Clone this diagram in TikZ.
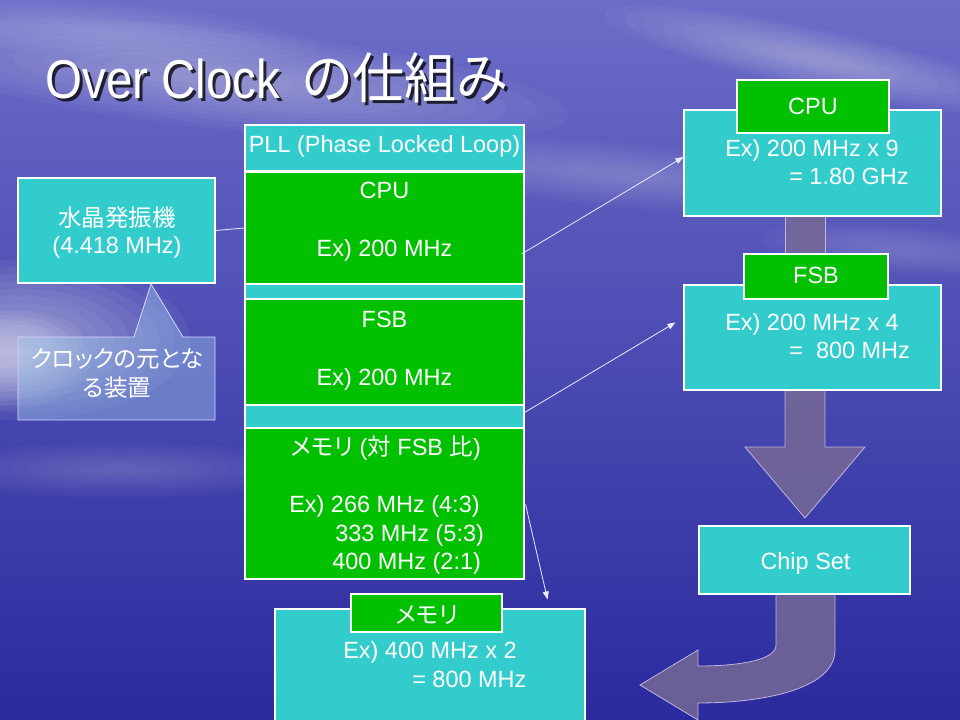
\documentclass[tikz,border=0pt]{standalone}
\usepackage{fontspec}
\setmainfont{Liberation Sans}
\newfontfamily\jp[RawFeature=+palt]{Noto Sans CJK JP}
\usetikzlibrary{arrows.meta,fit,calc}
\definecolor{cy}{HTML}{33CCCC}
\definecolor{gr}{HTML}{00C000}
\definecolor{skyA}{HTML}{6C6CC8}
\definecolor{skyB}{HTML}{4848B4}
\definecolor{skyC}{HTML}{2A2A9E}
\definecolor{grayarrow}{RGB}{118,104,150}
\definecolor{grayedge}{RGB}{190,182,222}
\newcommand\softblob[6]{%
  \foreach \k in {0,...,9}{%
    \fill[white,opacity=#6,rotate around={#5:(#1,#2)}] (#1,#2) ellipse [x radius={#3*(1-0.09*\k)}, y radius={#4*(1-0.09*\k)}];
  }%
}
\newcommand\titletext{\scalebox{0.87}[1]{Over Clock}\hspace{0.4em}\scalebox{0.95}[1]{\jp の仕組み}}
\begin{document}
\begin{tikzpicture}[x=0.75pt,y=-0.75pt,
  box/.style={draw=white,line width=0.8pt,inner sep=0pt},
  cybox/.style={box,fill=cy},
  grbox/.style={box,fill=gr},
  txt/.style={text=white,font=\fontsize{17.6}{21}\selectfont,inner sep=0pt},
  titlefont/.style={anchor=base west,inner sep=0pt,font=\fontsize{41}{46}\selectfont},
  link/.style={draw=white!92!blue,line width=0.6pt},
  arr/.style={link,-{Triangle[length=6pt,width=4.5pt]}},
  bigarrow/.style={fill=grayarrow,fill opacity=0.85,draw=grayedge,line width=0.6pt}
]
\clip (0,0) rectangle (960,720);
% ---------- background ----------
\shade[top color=skyA, middle color=skyB, bottom color=skyC] (0,0) rectangle (960,720);
\softblob{230}{80}{340}{50}{-6}{0.035}
\softblob{100}{30}{220}{28}{-4}{0.025}
\softblob{820}{60}{220}{30}{-12}{0.035}
\softblob{620}{175}{260}{32}{-5}{0.025}
\softblob{900}{250}{140}{25}{-5}{0.02}
\softblob{20}{340}{170}{80}{0}{0.05}
\softblob{0}{360}{90}{50}{0}{0.05}
\softblob{120}{470}{200}{28}{0}{0.02}
% ---------- title ----------
\node[titlefont,text=black,opacity=0.75] (titleshadow) at (48,102) {\titletext};
\node[titlefont,text=white] (title) at (45,99) {\titletext};
% ---------- gray big arrows ----------
\draw[bigarrow] (785,216) rectangle (825,256);
\draw[bigarrow] (785,390) -- (785,447) -- (745,447) -- (805,518) -- (865,447) -- (825,447) -- (825,390);
\draw[bigarrow] (776,594) -- (776,645) .. controls (776,660) and (740,666) .. (698,666)
  -- (698,650) -- (640,685) -- (698,720) -- (698,703)
  .. controls (760,703) and (835,690) .. (835,650) -- (835,594);
% ---------- PLL stack ----------
\node[cybox,fit={(245,125) (524,171)}] (pll) {};
\node[grbox,fit={(245,172) (524,284)}] (pcpu) {};
\node[cybox,fit={(245,284) (524,299)}] (strip1) {};
\node[grbox,fit={(245,299) (524,405)}] (pfsb) {};
\node[cybox,fit={(245,405) (524,428)}] (strip2) {};
\node[grbox,fit={(245,428) (524,579)}] (pmem) {};
\node[txt,anchor=base] (tpll) at (384.5,153) {PLL (Phase Locked Loop)};
\node[txt,anchor=base] (tpcpu1) at (384.5,199) {CPU};
\node[txt,anchor=base] (tpcpu2) at (384.5,257) {Ex) 200 MHz};
\node[txt,anchor=base] (tpfsb1) at (384.5,327) {FSB};
\node[txt,anchor=base] (tpfsb2) at (384.5,385) {Ex) 200 MHz};
\node[txt,anchor=base] (tpmem1) at (386,455) {{\jp メモリ} ({\jp 対} FSB {\jp 比})};
\node[txt,anchor=base west] (tpmem2) at (289,512) {Ex) 266 MHz (4:3)};
\node[txt,anchor=base west] (tpmem3) at (335,541) {333 MHz (5:3)};
\node[txt,anchor=base west] (tpmem4) at (332,569) {400 MHz (2:1)};
% ---------- crystal + callout ----------
\node[cybox,fit={(18,178) (215,283)}] (crystal) {};
\node[txt,anchor=base] (tcr1) at (117,227) {{\jp 水晶発振機}};
\node[txt,anchor=base] (tcr2) at (117,254) {(4.418 MHz)};
\draw[fill={rgb,255:red,160;green,205;blue,235},fill opacity=0.4,draw=white!85!blue,line width=0.6pt]
  (18,337) -- (134,337) -- (151,284) -- (183,337) -- (215,337) -- (215,420) -- (18,420) -- cycle;
\node[txt,anchor=base] (tco1) at (117,367) {{\jp クロックの元とな}};
\node[txt,anchor=base] (tco2) at (117,396) {{\jp る装置}};
% ---------- right boxes ----------
\node[cybox,fit={(684,110) (941,216)}] (rcpu) {};
\node[grbox,fit={(737,80) (889,133)}] (rcpul) {};
\node[txt,anchor=base] (trcpu0) at (813,115) {CPU};
\node[txt,anchor=base west] (trcpu1) at (725,157) {Ex) 200 MHz x 9};
\node[txt,anchor=base west] (trcpu2) at (789,185) {= 1.80 GHz};
\node[cybox,fit={(684,285) (941,390)}] (rfsb) {};
\node[grbox,fit={(744,254) (888,299)}] (rfsbl) {};
\node[txt,anchor=base] (trfsb0) at (816,284) {FSB};
\node[txt,anchor=base west] (trfsb1) at (725,330) {Ex) 200 MHz x 4};
\node[txt,anchor=base west] (trfsb2) at (789,358) {= \ 800 MHz};
\node[cybox,fit={(699,526) (910,594)}] (chip) {};
\node[txt,anchor=base] (tchip) at (805.5,569) {Chip Set};
% ---------- bottom memory ----------
\node[cybox,fit={(275,609) (585,730)}] (bmem) {};
\node[grbox,fit={(351,594) (502,632)}] (bmeml) {};
\node[txt,anchor=base] (tbm0) at (427,623) {{\jp メモリ}};
\node[txt,anchor=base west] (tbm1) at (343,658) {Ex) 400 MHz x 2};
\node[txt,anchor=base west] (tbm2) at (412,687) {= 800 MHz};
% ---------- connectors ----------
\draw[link] (crystal.east) -- (pcpu.west);
\draw[arr] ($(pcpu.east)+(-3,26)$) -- ($(rcpu.west)+(0,-6)$);
\draw[arr] ($(strip2.east)+(0,-4)$) -- ($(rfsb.west)+(-8,-15)$);
\draw[arr] ($(pmem.east)+(1,1)$) -- ($(bmem.north east)+(-38,-9)$);
\end{tikzpicture}
\end{document}
